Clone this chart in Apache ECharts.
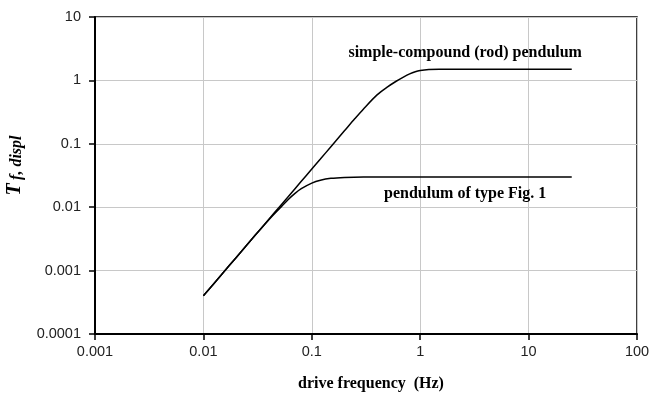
<!DOCTYPE html>
<html>
<head>
<meta charset="utf-8">
<script src="https://cdn.jsdelivr.net/npm/echarts@6/dist/echarts.min.js"></script>
<style>
  html, body { margin: 0; padding: 0; background: #fff; }
  #chart { width: 649px; height: 397px; }
</style>
</head>
<body>
<div id="chart"></div>
<script>
// drive frequency (Hz) and response
var rodFreq = [0.01, 0.015, 0.02, 0.03, 0.04, 0.05, 0.06, 0.07, 0.08, 0.1, 0.12, 0.15, 0.2, 0.25, 0.3, 0.4, 0.5, 0.6, 0.7, 0.8, 0.9, 1.0, 1.2, 1.5, 2, 5, 10, 25];
var rodT    = [0.0004, 0.0009, 0.0016, 0.0036, 0.0064, 0.01, 0.0144, 0.0196, 0.0256, 0.04, 0.0575, 0.09, 0.16, 0.25, 0.355, 0.59, 0.79, 0.97, 1.13, 1.27, 1.37, 1.43, 1.48, 1.5, 1.5, 1.5, 1.5, 1.5];

var fig1Freq = [0.01, 0.015, 0.02, 0.03, 0.04, 0.05, 0.06, 0.07, 0.08, 0.1, 0.12, 0.15, 0.2, 0.3, 0.5, 1, 10, 25];
var fig1T    = [0.0004, 0.0009, 0.0016, 0.0036, 0.0063, 0.0094, 0.013, 0.0165, 0.0196, 0.024, 0.0266, 0.0285, 0.0295, 0.03, 0.03, 0.03, 0.03, 0.03];

var xTickLabels = ['0.001', '0.01', '0.1', '1', '10', '100'];
var yTickLabels = ['0.0001', '0.001', '0.01', '0.1', '1', '10'];

var rodName = 'simple-compound (rod) pendulum';
var fig1Name = 'pendulum of type Fig. 1';

function pairs(xs, ys) {
  return xs.map(function (x, i) { return [x, ys[i]]; });
}

var chart = echarts.init(document.getElementById('chart'));

var serif = '"Liberation Serif", "DejaVu Serif", serif';
var sans = '"Liberation Sans", Arial, sans-serif';

var noteLabel = {
  show: true,
  fontFamily: serif,
  fontWeight: 'bold',
  fontSize: 16,
  color: '#000'
};

chart.setOption({
  animation: false,
  grid: {
    left: 95,
    right: 12,
    top: 17,
    bottom: 63,
    outerBoundsMode: 'none',
    containLabel: false,
    show: true,
    borderColor: '#000',
    borderWidth: 1.5
  },
  xAxis: {
    type: 'log',
    logBase: 10,
    min: 0.001,
    max: 100,
    name: 'drive frequency  (Hz)',
    nameLocation: 'middle',
    nameGap: 42,
    nameTextStyle: {
      fontFamily: serif,
      fontWeight: 'bold',
      fontSize: 16,
      color: '#000',
      padding: [0, 0, 0, 10]
    },
    axisLine: { lineStyle: { color: '#000', width: 2 } },
    axisTick: { length: 6, lineStyle: { color: '#000', width: 1.5 } },
    minorTick: { show: false },
    axisLabel: {
      margin: 10,
      fontFamily: sans,
      fontSize: 14.5,
      color: '#222',
      formatter: function (v) {
        return xTickLabels[Math.round(Math.log10(v)) + 3];
      }
    },
    splitLine: { show: true, lineStyle: { color: '#c8c8c8', width: 1 } }
  },
  yAxis: {
    type: 'log',
    logBase: 10,
    min: 0.0001,
    max: 10,
    name: '{t|T} {s|f, displ}',
    nameLocation: 'middle',
    nameRotate: 90,
    nameGap: 70,
    nameTextStyle: {
      padding: [0, 0, 0, 20],
      rich: {
        t: { fontFamily: serif, fontWeight: 'bold', fontStyle: 'italic', fontSize: 20, color: '#000', verticalAlign: 'bottom' },
        s: { fontFamily: serif, fontWeight: 'bold', fontStyle: 'italic', fontSize: 16, color: '#000', verticalAlign: 'bottom', padding: [3, 0, 0, 0] }
      }
    },
    axisLine: { lineStyle: { color: '#000', width: 2 } },
    axisTick: { length: 6, lineStyle: { color: '#000', width: 1.5 } },
    minorTick: { show: false },
    axisLabel: {
      margin: 14,
      fontFamily: sans,
      fontSize: 14.5,
      color: '#222',
      formatter: function (v) {
        return yTickLabels[Math.round(Math.log10(v)) + 4];
      }
    },
    splitLine: { show: true, lineStyle: { color: '#c8c8c8', width: 1 } }
  },
  series: [
    {
      name: rodName,
      type: 'line',
      data: pairs(rodFreq, rodT),
      showSymbol: false,
      smooth: 0.3,
      lineStyle: { color: '#000', width: 1.5 },
      markPoint: {
        symbol: 'circle',
        symbolSize: 1,
        itemStyle: { color: 'rgba(0,0,0,0)' },
        label: Object.assign({ position: 'top', distance: 8, formatter: rodName }, noteLabel),
        data: [{ coord: [2.6, 1.5] }]
      }
    },
    {
      name: fig1Name,
      type: 'line',
      data: pairs(fig1Freq, fig1T),
      showSymbol: false,
      smooth: 0.2,
      lineStyle: { color: '#000', width: 1.5 },
      markPoint: {
        symbol: 'circle',
        symbolSize: 1,
        itemStyle: { color: 'rgba(0,0,0,0)' },
        label: Object.assign({ position: 'bottom', distance: 8, formatter: fig1Name }, noteLabel),
        data: [{ coord: [2.6, 0.03] }]
      }
    }
  ]
});
</script>
</body>
</html>
